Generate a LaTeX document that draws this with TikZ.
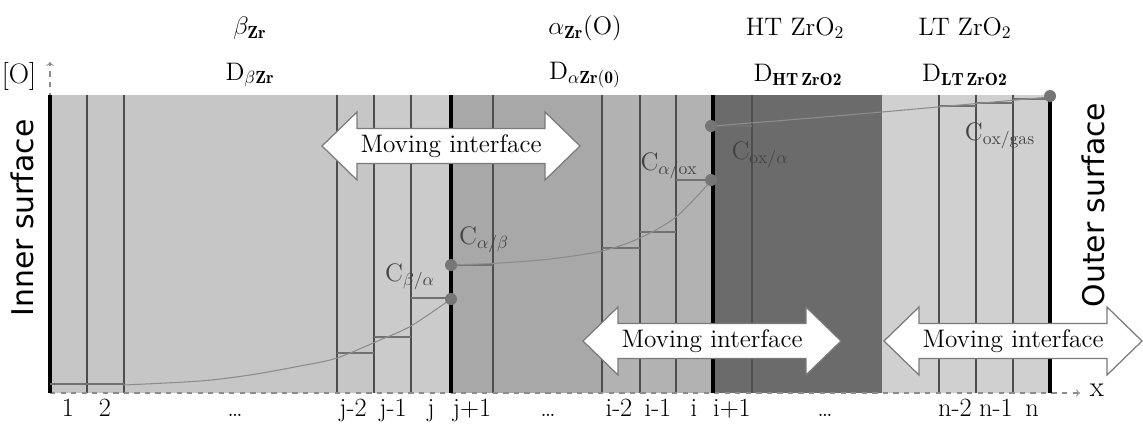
\documentclass[tikz,border=0pt]{standalone}
\usepackage{fontspec}
\newfontfamily\sidefont{DejaVu Sans}
\definecolor{betagray}{HTML}{C6C6C6}
\definecolor{betalight}{HTML}{CBCBCB}
\definecolor{alphagray}{HTML}{A8A8A8}
\definecolor{alphalight}{HTML}{B2B2B2}
\definecolor{htgray}{HTML}{6B6B6B}
\definecolor{ltgray}{HTML}{D0D0D0}
\definecolor{cellline}{HTML}{4E4E4E}
\definecolor{curvegray}{HTML}{8C8C8C}
\definecolor{dotgray}{HTML}{767676}
\definecolor{labelgray}{HTML}{444444}
\definecolor{axisgray}{HTML}{8C8C8C}
\definecolor{arrowgray}{HTML}{7A7A7A}

\begin{document}
\begin{tikzpicture}[x=0.02cm,y=-0.02cm,
    every node/.style={font=\fontsize{14.4}{17}\selectfont},
    cellwall/.style={draw=cellline,line width=0.9pt},
    boundwall/.style={draw=black,line width=2.2pt},
    stepline/.style={draw=cellline!80,line width=0.7pt},
    conc/.style={draw=curvegray,line width=0.6pt},
    cdot/.style={circle,fill=dotgray,inner sep=0pt,minimum size=0.24cm},
    clabel/.style={text=labelgray},
    axis/.style={draw=axisgray,dashed,line width=0.6pt},
    mvarrow/.style={draw=arrowgray,fill=white,line width=0.7pt},
    numlabel/.style={anchor=base,font=\fontsize{15}{18}\selectfont},
    sidelabel/.style={rotate=90,font=\sidefont\fontsize{17}{20}\selectfont}]
  \useasboundingbox (0,0) rectangle (1143,433);
  % phases
  \fill[betagray] (50,95) rectangle (451,393);
  \fill[betalight] (374,95) rectangle (451,393);
  \fill[alphagray] (451,95) rectangle (713,393);
  \fill[alphalight] (602,95) rectangle (713,393);
  \fill[htgray] (713,95) rectangle (882,393);
  \fill[ltgray] (882,95) rectangle (1050,393);
  % cells
  \foreach \x in {87,124,337,374,411,493,602,640,676,752,939,976,1013}
    \draw[cellwall] (\x,95) -- (\x,393);
  % axes
  \draw[axis,->] (50,393) -- (50,62);
  \draw[axis,->] (50,393) -- (1080,393);
  \node[font=\fontsize{16.5}{19}\selectfont] (xlab) at (1097,390) {x};
  \node[font=\fontsize{16}{19}\selectfont] (olab) at (19,76) {[O]};
  % interfaces
  \foreach \x in {50,451,713,1050}
    \draw[boundwall] (\x,95) -- (\x,393);
  % concentration steps
  \draw[stepline] (50,384) -- (124,384);
  \draw[stepline] (337,353) -- (374,353);
  \draw[stepline] (374,337) -- (411,337);
  \draw[stepline] (411,298) -- (451,298);
  \draw[stepline] (451,265) -- (493,265);
  \draw[stepline] (602,248) -- (640,248);
  \draw[stepline] (640,232) -- (676,232);
  \draw[stepline] (676,180) -- (711,180);
  \draw[stepline] (713,126) -- (752,126);
  \draw[stepline] (939,106) -- (976,106);
  \draw[stepline] (976,103) -- (1013,103);
  \draw[stepline] (1013,99) -- (1050,99);
  % profile
  \draw[conc] plot[smooth] coordinates {(124,385) (200,381) (250,375) (300,366) (337,358) (380,340) (411,326) (451,299)};
  \draw[conc] plot[smooth] coordinates {(451,265) (500,263) (550,259) (602,251) (640,238) (676,217) (711,181)};
  \draw[conc] plot[smooth] coordinates {(713,126) (800,119) (882,112) (960,105) (1050,97)};
  \node[cdot] (cba) at (451,299) {};
  \node[cdot] (cab) at (451,265) {};
  \node[cdot] (cao) at (711,180) {};
  \node[cdot] (coa) at (711,126) {};
  \node[cdot] (cog) at (1050,96) {};
  \node[clabel] (lba) at (410,277) {C$_{\beta/\alpha}$};
  \node[clabel] (lab) at (484,240) {C$_{\alpha/\beta}$};
  \node[clabel] (lao) at (669,166) {C$_{\alpha/\mathrm{ox}}$};
  \node[clabel] (loa) at (760,155) {C$_{\mathrm{ox}/\alpha}$};
  \node[clabel] (log) at (1000,136) {C$_{\mathrm{ox/gas}}$};
  % moving interfaces
  \foreach \cx/\cy [count=\k] in {451/146,712/341,1013/341}{
    \draw[mvarrow] (\cx-129,\cy) -- ++(35,-34) -- ++(0,16.5) -- ++(188,0) -- ++(0,-16.5)
      -- ++(35,34) -- ++(-35,34) -- ++(0,-16.5) -- ++(-188,0) -- ++(0,16.5) -- cycle;
    \node (mv\k) at (\cx,\cy) {Moving interface};
  }
  % phase names
  \node (pbeta) at (250,28) {$\beta_{\mathbf{Zr}}$};
  \node (palpha) at (585,28) {$\alpha_{\mathbf{Zr}}$(O)};
  \node (pht) at (795,28) {HT ZrO$_2$};
  \node (plt) at (965,28) {LT ZrO$_2$};
  \node (dbeta) at (250,75) {D$_{\beta\mathbf{Zr}}$};
  \node (dalpha) at (585,75) {D$_{\alpha\mathbf{Zr(0)}}$};
  \node (dht) at (798,75) {D$_{\mathbf{HT\,ZrO2}}$};
  \node (dlt) at (965,75) {D$_{\mathbf{LT\,ZrO2}}$};
  % surfaces
  \node[sidelabel] (inner) at (22,218) {Inner surface};
  \node[sidelabel] (outer) at (1093,205) {Outer surface};
  % cell numbers
  \foreach \x/\t [count=\k] in {68/1,105/2,235/\ldots,353/j-2,393/j-1,431/j,472/j+1,548/\ldots,619/i-2,658/i-1,694/i,732/i+1,825/\ldots,955/n-2,996/n-1,1032/n}
    \node[numlabel] (num\k) at (\x,416) {\t};
\end{tikzpicture}
\end{document}
